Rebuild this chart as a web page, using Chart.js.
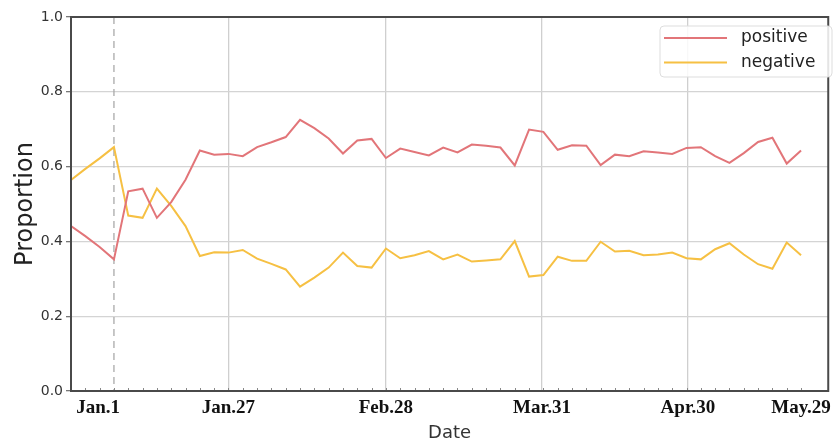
<!DOCTYPE html>
<html>
<head>
<meta charset="utf-8">
<script src="https://cdn.jsdelivr.net/npm/chart.js@4.4.1/dist/chart.umd.min.js"></script>
<style>
  body { margin: 0; background: #fff; }
  #wrap { width: 837px; height: 445px; }
</style>
</head>
<body>
<div id="wrap"><canvas id="propChart"></canvas></div>
<script>
// one point roughly every 3 days, Jan.1 falls on index 3
const positive = [0.441, 0.414, 0.385, 0.352, 0.534, 0.541, 0.463, 0.505, 0.565, 0.643,
    0.632, 0.634, 0.628, 0.652, 0.665, 0.679, 0.725, 0.703, 0.675, 0.635,
    0.670, 0.674, 0.623, 0.648, 0.639, 0.630, 0.651, 0.638, 0.659, 0.656,
    0.651, 0.603, 0.699, 0.693, 0.645, 0.657, 0.656, 0.604, 0.632, 0.628,
    0.641, 0.638, 0.634, 0.650, 0.652, 0.628, 0.610, 0.636, 0.666, 0.677,
    0.608, 0.643];
const negative = [0.564, 0.594, 0.622, 0.652, 0.469, 0.463, 0.541, 0.495, 0.441, 0.361,
    0.371, 0.370, 0.377, 0.354, 0.340, 0.325, 0.279, 0.303, 0.330, 0.370,
    0.334, 0.330, 0.381, 0.355, 0.363, 0.374, 0.352, 0.365, 0.346, 0.349,
    0.352, 0.401, 0.306, 0.310, 0.359, 0.348, 0.348, 0.399, 0.373, 0.375,
    0.363, 0.365, 0.370, 0.355, 0.352, 0.379, 0.395, 0.365, 0.339, 0.327,
    0.397, 0.363];
const tickLabels = ["Jan.1", "Jan.27", "Feb.28", "Mar.31", "Apr.30", "May.29"];
const tickPositions = [1.9, 11, 22, 32.9, 43.1, 51];
const jan1Index = 3;

const toPoints = arr => arr.map((v, i) => ({ x: i, y: v }));

const framePlugin = {
    id: 'frame',
    beforeDatasetsDraw(chart) {
        const { ctx, chartArea: a, scales } = chart;
        const x = scales.x.getPixelForValue(jan1Index);
        ctx.save();
        ctx.strokeStyle = '#aaaaaa';
        ctx.lineWidth = 1.3;
        ctx.setLineDash([7, 5]);
        ctx.beginPath();
        ctx.moveTo(x, a.top);
        ctx.lineTo(x, a.bottom);
        ctx.stroke();
        ctx.restore();
    },
    afterDraw(chart) {
        const { ctx, chartArea: a, scales } = chart;
        ctx.save();
        // small inward ticks along the bottom
        ctx.strokeStyle = '#888';
        ctx.lineWidth = 1;
        for (let i = 0; i < positive.length; i++) {
            const x = Math.round(scales.x.getPixelForValue(i)) + 0.5;
            ctx.beginPath();
            ctx.moveTo(x, a.bottom);
            ctx.lineTo(x, a.bottom - 3);
            ctx.stroke();
        }
        ctx.strokeStyle = '#4a4a4a';
        ctx.lineWidth = 2;
        ctx.strokeRect(a.left, a.top, a.right - a.left, a.bottom - a.top);

        // legend box
        const bx = 660, by = 26, bw = 172, bh = 51;
        ctx.fillStyle = 'rgba(255,255,255,0.85)';
        ctx.strokeStyle = '#dddddd';
        ctx.lineWidth = 1;
        ctx.beginPath();
        ctx.roundRect(bx, by, bw, bh, 4);
        ctx.fill();
        ctx.stroke();
        ctx.font = '17px "DejaVu Sans"';
        ctx.textBaseline = 'middle';
        chart.data.datasets.forEach((ds, i) => {
            const y = 38 + i * 24.5;
            ctx.strokeStyle = ds.borderColor;
            ctx.lineWidth = 2;
            ctx.beginPath();
            ctx.moveTo(664, y);
            ctx.lineTo(727, y);
            ctx.stroke();
            ctx.fillStyle = '#222';
            ctx.fillText(ds.label, 741, y);
        });
        ctx.restore();
    }
};

new Chart(document.getElementById('propChart'), {
    type: 'line',
    data: {
        datasets: [
            {
                label: 'positive',
                data: toPoints(positive),
                borderColor: '#e27579',
                borderWidth: 2,
                pointRadius: 0,
                tension: 0
            },
            {
                label: 'negative',
                data: toPoints(negative),
                borderColor: '#f6c043',
                borderWidth: 2,
                pointRadius: 0,
                tension: 0
            }
        ]
    },
    options: {
        responsive: true,
        maintainAspectRatio: false,
        animation: false,
        layout: { padding: { top: 17, right: 4, left: 0, bottom: 0 } },
        scales: {
            x: {
                type: 'linear',
                min: 0,
                max: 52.9,
                afterBuildTicks(scale) {
                    scale.ticks = tickPositions.map(v => ({ value: v }));
                },
                afterFit(scale) { scale.height = 54; },
                border: { display: false },
                grid: {
                    drawTicks: false,
                    lineWidth: 1.3,
                    color: c => (c.index === 0 || c.index === tickLabels.length - 1) ? 'rgba(0,0,0,0)' : '#cfcfcf'
                },
                ticks: {
                    autoSkip: false,
                    maxRotation: 0,
                    padding: 6,
                    color: '#111',
                    font: { family: '"Liberation Serif"', size: 19, weight: 'bold' },
                    callback: (v, i) => tickLabels[i]
                },
                title: {
                    display: true,
                    text: 'Date',
                    color: '#333',
                    font: { family: '"DejaVu Sans"', size: 18 },
                    padding: { top: 0, bottom: 1 }
                }
            },
            y: {
                min: 0,
                max: 1,
                afterFit(scale) { scale.width = 71; },
                border: { display: false },
                grid: {
                    color: '#d4d4d4',
                    lineWidth: 1.3,
                    tickLength: 5,
                    tickColor: '#777'
                },
                ticks: {
                    stepSize: 0.2,
                    padding: 3,
                    color: '#333',
                    font: { family: '"DejaVu Sans"', size: 14 },
                    callback: v => v.toFixed(1)
                },
                title: {
                    display: true,
                    text: 'Proportion',
                    color: '#222',
                    font: { family: '"DejaVu Sans"', size: 24 },
                    padding: { top: 11, bottom: 0 }
                }
            }
        },
        plugins: {
            legend: { display: false },
            tooltip: { enabled: false }
        }
    },
    plugins: [framePlugin]
});
</script>
</body>
</html>
